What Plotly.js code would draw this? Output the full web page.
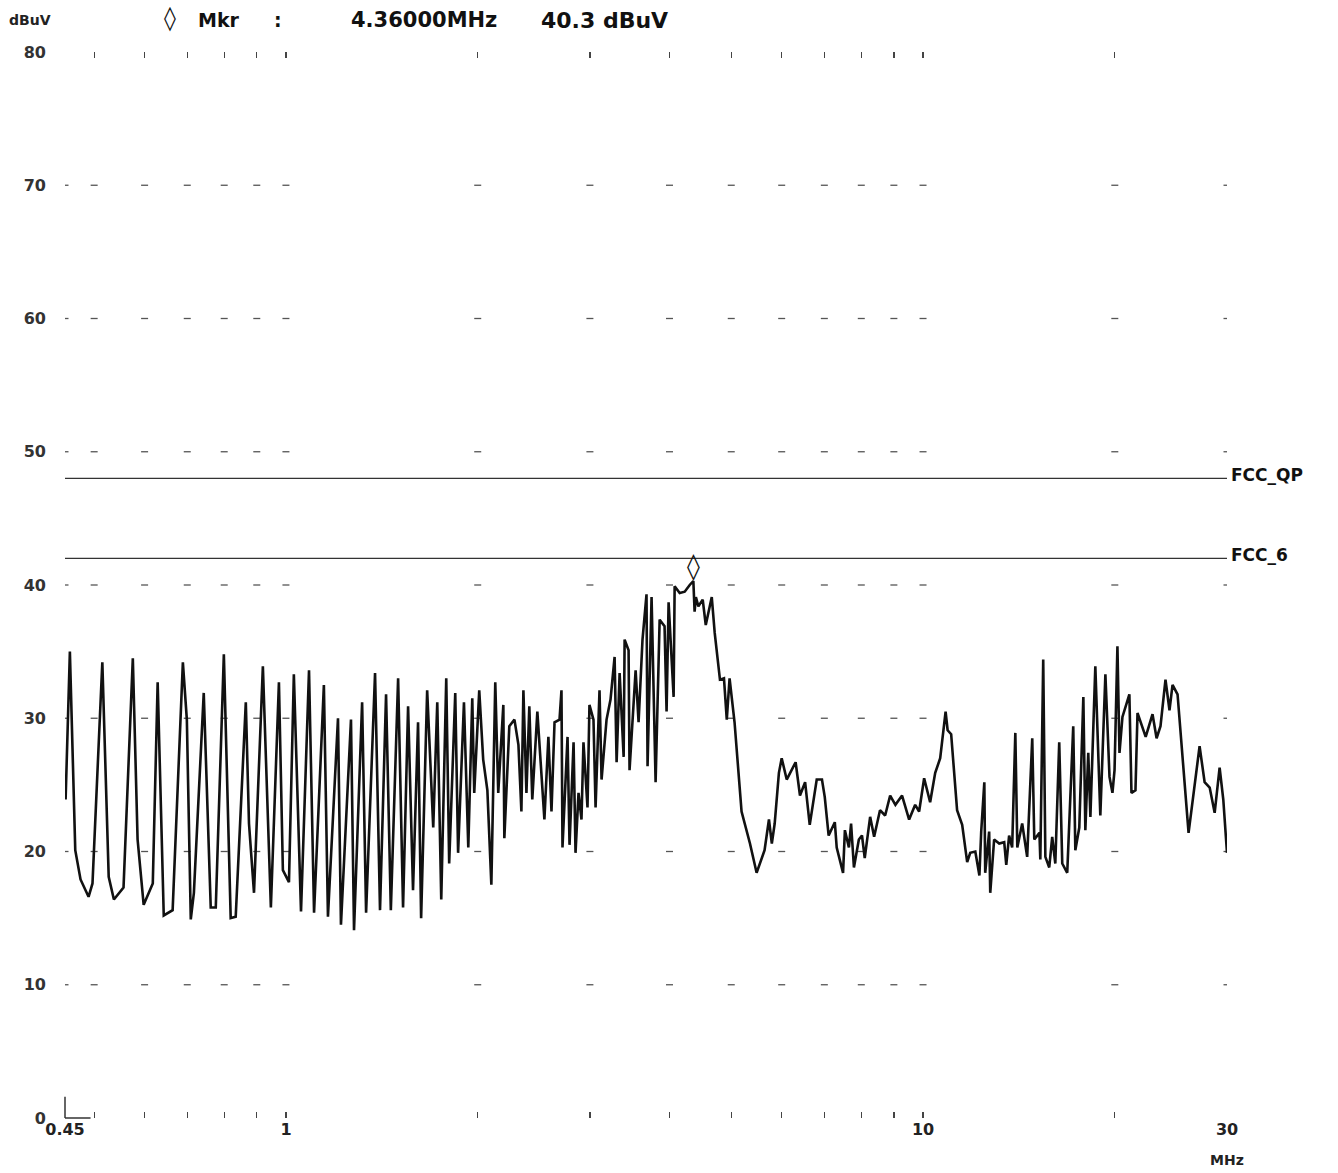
<!DOCTYPE html>
<html>
<head>
<meta charset="utf-8">
<script src="https://cdn.plot.ly/plotly-3.0.1.min.js"></script>
<style>html,body{margin:0;padding:0;background:#fff;}#chart{width:1338px;height:1173px;}</style>
</head>
<body>
<div id="chart"></div>
<script>
// ---- data ----
const freqMHz = [
0.451,0.458,0.467,0.476,0.490,0.497,0.515,0.527,0.537,0.556,
0.575,0.585,0.598,0.618,0.629,0.643,0.664,0.689,0.699,0.709,
0.717,0.743,0.762,0.776,0.799,0.819,0.834,0.865,0.875,0.891,
0.920,0.947,0.975,0.989,1.011,1.029,1.056,1.087,1.107,1.147,
1.164,1.207,1.220,1.265,1.279,1.317,1.336,1.380,1.405,1.436,
1.461,1.500,1.527,1.555,1.583,1.612,1.630,1.666,1.703,1.728,
1.753,1.785,
1.804,1.844,1.863,1.903,1.933,1.961,1.975,2.011,2.040,2.071,
2.101,2.131,2.154,2.194,2.202,2.242,2.284,2.317,2.342,2.359,
2.385,2.410,2.436,2.481,2.545,2.582,2.611,2.640,2.688,2.707,
2.717,2.767,2.787,2.828,2.848,2.879,2.910,2.931,2.974,2.995,
3.039,3.062,3.106,3.129,3.186,3.232,3.280,3.304,3.340,3.389,
3.401,3.450,3.462,3.539,3.577,3.628,3.681,3.695,3.749,3.804,
3.860,3.929,3.958,3.987,4.060,4.075,4.150,4.226,4.303,4.36,
4.38,4.40,4.44,4.51,4.56,4.66,4.71,4.80,4.87,4.92,4.97,5.06,
5.19,5.35,5.48,5.64,5.73,5.79,5.85,5.94,6.00,6.11,6.31,6.41,
6.53,6.64,6.81,6.94,7.01,7.11,7.27,7.32,7.49,7.54,7.65,7.71,
7.79,7.93,8.02,8.10,8.26,8.38,8.56,8.72,8.88,9.05,9.27,9.51,
9.72,9.86,10.04,10.26,10.45,10.64,10.85,10.93,11.07,11.31,
11.52,11.73,11.86,12.08,12.26,12.34,12.48,12.52,12.70,12.75,
12.93,13.17,13.41,13.51,13.65,13.80,13.96,14.06,14.31,14.57,
14.84,14.95,15.23,15.28,15.44,15.56,15.78,15.95,16.13,16.36,
16.54,16.84,17.21,17.34,17.59,17.85,17.98,18.17,18.31,18.64,
18.98,19.33,19.62,19.83,19.98,20.19,20.34,20.56,21.08,21.24,
21.55,21.71,22.36,22.92,23.26,23.59,24.02,24.37,24.64,25.09,
26.11,27.17,27.67,28.18,28.69,29.21,29.6,30.0];

const levelDbuV = [
23.9,35.0,20.1,17.9,16.6,17.6,34.2,18.1,16.4,17.3,
34.5,20.9,16.0,17.6,32.7,15.2,15.6,34.2,29.9,14.9,
16.9,31.9,15.8,15.8,34.8,15.0,15.1,31.2,22.1,16.9,
33.9,15.8,32.7,18.6,17.7,33.3,15.5,33.6,15.4,32.5,
15.1,30.0,14.5,29.9,14.1,31.2,15.4,33.4,15.6,31.8,
15.6,33.0,15.8,30.9,17.1,29.7,15.0,32.1,21.8,31.2,
16.4,33.0,
19.1,31.9,19.9,31.2,20.3,31.5,24.4,32.1,26.9,24.6,
17.5,32.7,24.4,31.0,21.0,29.4,29.9,28.0,23.0,32.1,
24.4,30.9,23.9,30.5,22.4,28.6,23.0,29.7,29.9,32.1,
20.3,28.6,20.5,28.2,19.9,24.4,22.4,28.2,23.3,31.0,
29.9,23.3,32.1,25.4,29.9,31.4,34.6,26.7,33.4,27.1,
35.9,35.1,26.1,33.6,29.7,35.9,39.3,26.4,39.1,25.2,
37.4,36.9,30.5,38.7,31.6,39.9,39.4,39.5,40.0,40.3,
38.0,39.1,38.4,38.9,37.0,39.1,36.4,32.9,33.0,29.9,33.0,29.7,
23.0,20.6,18.4,20.1,22.4,20.6,22.1,25.9,27.0,25.4,26.7,24.2,
25.2,22.0,25.4,25.4,24.1,21.2,22.2,20.3,18.4,21.6,20.3,22.1,
18.8,20.9,21.2,19.5,22.6,21.1,23.1,22.7,24.2,23.5,24.2,22.4,
23.5,23.0,25.5,23.7,25.9,27.0,30.5,29.1,28.8,23.1,
22.0,19.2,19.9,20.0,18.2,21.5,25.2,18.4,21.5,16.9,
20.9,20.6,20.7,19.0,21.2,20.3,28.9,20.3,22.1,19.6,
28.5,20.9,21.4,19.4,34.4,19.6,18.8,21.1,19.1,28.2,
19.1,18.4,29.4,20.1,21.8,31.6,21.6,27.4,22.6,33.9,
22.7,33.3,25.6,24.4,26.1,35.4,27.4,30.1,31.8,24.4,
24.6,30.4,28.6,30.3,28.5,29.4,32.9,30.6,32.5,31.8,
21.4,27.9,25.2,24.8,22.9,26.3,23.9,19.9];

const limitFreq = [0.45, 30];
const limitQP = [48, 48];
const limit6 = [42, 42];
const limitNames = ['FCC_QP', 'FCC_6'];

const markerFreq = 4.36;
const markerLevel = 40.3;

const gridFreq = [0.45,0.5,0.6,0.7,0.8,0.9,1,2,3,4,5,6,7,8,9,10,20,30];
const xTickText = ['0.45','','','','','','1','','','','','','','','','10','','30'];
const gridLevels = [10,20,30,40,50,60,70];
const yTicks = [0,10,20,30,40,50,60,70,80];

// ---- build ----
const gx = [], gy = [];
gridLevels.forEach(l => gridFreq.forEach(f => { gx.push(f); gy.push(l); }));

const FONT = 'DejaVu Sans, Verdana, sans-serif';

const traces = [
  {x: gx, y: gy, mode: 'markers', type: 'scatter', hoverinfo: 'skip',
   marker: {symbol: 'line-ew', size: 5, color: '#555', line: {color: '#555', width: 1.3}}},
  {x: limitFreq, y: limitQP, mode: 'lines', type: 'scatter', line: {color: '#333', width: 1.3}},
  {x: limitFreq, y: limit6, mode: 'lines', type: 'scatter', line: {color: '#333', width: 1.3}},
  {x: freqMHz, y: levelDbuV, mode: 'lines', type: 'scatter', line: {color: '#111', width: 2.6}},
  {x: [markerFreq], y: [markerLevel], mode: 'text', type: 'scatter', text: ['◊'],
   textposition: 'top center', textfont: {family: FONT, size: 26, color: '#111', weight: 'bold'}, cliponaxis: false}
];

const hy = 1.030;
const px = p => (p - 65) / 1162;
const annotations = [
  {text: '<b>dBuV</b>', xref: 'paper', yref: 'paper', x: px(7), y: hy, xanchor: 'left', yanchor: 'middle', showarrow: false, font: {family: FONT, size: 14, color: '#222'}},
  {text: '<b>◊</b>', xref: 'paper', yref: 'paper', x: px(162), y: hy + 0.002, xanchor: 'left', yanchor: 'middle', showarrow: false, font: {family: FONT, size: 24, color: '#111'}},
  {text: '<b>Mkr</b>', xref: 'paper', yref: 'paper', x: px(196), y: hy, xanchor: 'left', yanchor: 'middle', showarrow: false, font: {family: FONT, size: 19, color: '#111'}},
  {text: '<b>:</b>', xref: 'paper', yref: 'paper', x: px(272), y: hy, xanchor: 'left', yanchor: 'middle', showarrow: false, font: {family: FONT, size: 19, color: '#111'}},
  {text: '<b>' + markerFreq.toFixed(5) + 'MHz</b>', xref: 'paper', yref: 'paper', x: px(349), y: hy, xanchor: 'left', yanchor: 'middle', showarrow: false, font: {family: FONT, size: 21, color: '#111'}},
  {text: '<b>' + markerLevel.toFixed(1) + ' dBuV</b>', xref: 'paper', yref: 'paper', x: px(539), y: hy, xanchor: 'left', yanchor: 'middle', showarrow: false, font: {family: FONT, size: 22, color: '#111'}},
  {text: '<b>' + limitNames[0] + '</b>', xref: 'x', yref: 'y', x: Math.log10(limitFreq[1]), y: limitQP[1], xanchor: 'left', yanchor: 'middle', xshift: 2, yshift: 3, showarrow: false, font: {family: FONT, size: 17, color: '#111'}},
  {text: '<b>' + limitNames[1] + '</b>', xref: 'x', yref: 'y', x: Math.log10(limitFreq[1]), y: limit6[1], xanchor: 'left', yanchor: 'middle', xshift: 2, yshift: 3, showarrow: false, font: {family: FONT, size: 17, color: '#111'}},
  {text: '<b>MHz</b>', xref: 'paper', yref: 'paper', x: 1.0, y: -0.039, xanchor: 'center', yanchor: 'middle', showarrow: false, font: {family: FONT, size: 14, color: '#222'}}
];

const layout = {
  width: 1338, height: 1173,
  margin: {l: 65, r: 111, t: 52, b: 55},
  paper_bgcolor: '#fff', plot_bgcolor: '#fff',
  showlegend: false,
  font: {family: FONT, color: '#222'},
  xaxis: {
    type: 'log', range: [Math.log10(0.45), Math.log10(30)],
    tickmode: 'array', tickvals: gridFreq, ticktext: xTickText,
    ticks: 'inside', ticklen: 6, tickwidth: 1.3, tickcolor: '#444',
    mirror: 'ticks', showline: false, showgrid: false, zeroline: false,
    tickfont: {family: FONT, size: 16, color: '#222', weight: 'bold'}
  },
  yaxis: {
    range: [0, 80], tickmode: 'array', tickvals: yTicks,
    ticks: '', showline: false, showgrid: false, zeroline: false,
    ticklabelstandoff: 18,
    tickfont: {family: FONT, size: 16, color: '#333', weight: 'bold'}
  },
  shapes: [
    {type: 'line', xref: 'paper', yref: 'paper', x0: 0, x1: 0, y0: 0, y1: 0.02, line: {color: '#333', width: 1.5}},
    {type: 'line', xref: 'paper', yref: 'paper', x0: 0, x1: 0.022, y0: 0, y1: 0, line: {color: '#333', width: 1.5}}
  ],
  annotations: annotations
};

Plotly.newPlot('chart', traces, layout, {displayModeBar: false, staticPlot: true});
</script>
</body>
</html>
